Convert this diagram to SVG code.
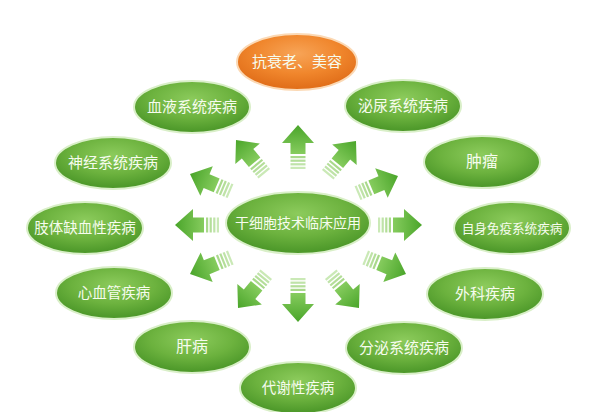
<svg xmlns="http://www.w3.org/2000/svg" xmlns:xlink="http://www.w3.org/1999/xlink" width="600" height="412" viewBox="0 0 600 412">
<style>
.n{stroke:#d9efc8;stroke-width:2;fill:url(#gg)}
.o{stroke:#fbd9b5;stroke-width:2;fill:url(#og)}
.t{font-family:"Noto Sans CJK SC","Noto Sans",sans-serif;font-size:15px;fill:#f6fcee;text-anchor:middle}
</style>
<defs>
<radialGradient id="gg" cx="50%" cy="35%" r="60%">
<stop offset="0" stop-color="#8ccb5c"/>
<stop offset="0.6" stop-color="#6cb23e"/>
<stop offset="1" stop-color="#4f9a2b"/>
</radialGradient>
<radialGradient id="og" cx="50%" cy="35%" r="60%">
<stop offset="0" stop-color="#f7a457"/>
<stop offset="0.6" stop-color="#f0862c"/>
<stop offset="1" stop-color="#e2701b"/>
</radialGradient>
<linearGradient id="ag" x1="0" y1="0" x2="0" y2="1">
<stop offset="0" stop-color="#4aa52a"/>
<stop offset="1" stop-color="#86cc5e"/>
</linearGradient>
<g id="arr">
<polygon points="0,0 16,18 7.5,18 7.5,29 -7.5,29 -7.5,18 -16,18" fill="url(#ag)"/>
<rect x="-7.5" y="31" width="15" height="2.2" fill="#a9d98b"/>
<rect x="-7.5" y="34.6" width="15" height="2.2" fill="#b4de99"/>
<rect x="-7.5" y="38.2" width="15" height="2.2" fill="#bfe3a8"/>
<rect x="-7.5" y="41.8" width="15" height="2.2" fill="#cae9b6"/>
</g>
</defs>
<rect width="600" height="412" fill="#ffffff"/>
<g id="connectors">
<use xlink:href="#arr" transform="translate(298,125)"/>
<use xlink:href="#arr" transform="translate(236,140) rotate(-40)"/>
<use xlink:href="#arr" transform="translate(190,174) rotate(-67)"/>
<use xlink:href="#arr" transform="translate(175,225) rotate(-90)"/>
<use xlink:href="#arr" transform="translate(190,274) rotate(-112)"/>
<use xlink:href="#arr" transform="translate(238,308) rotate(-140)"/>
<use xlink:href="#arr" transform="translate(298,322) rotate(180)"/>
<use xlink:href="#arr" transform="translate(359,308) rotate(140)"/>
<use xlink:href="#arr" transform="translate(406,274) rotate(112)"/>
<use xlink:href="#arr" transform="translate(422,225) rotate(90)"/>
<use xlink:href="#arr" transform="translate(398,176) rotate(67)"/>
<use xlink:href="#arr" transform="translate(356,141) rotate(40)"/>
</g>
<g id="center"><ellipse class="n" cx="298" cy="223" rx="72" ry="31"/><text class="t" x="298" y="228" style="font-size:14px">干细胞技术临床应用</text></g>
<g id="n-anti"><ellipse class="o" cx="297" cy="62" rx="60" ry="28"/><text class="t" x="297" y="67">抗衰老、美容</text></g>
<g id="n-blood"><ellipse class="n" cx="192" cy="107" rx="58" ry="26"/><text class="t" x="192" y="112">血液系统疾病</text></g>
<g id="n-urinary"><ellipse class="n" cx="403" cy="106" rx="58" ry="26"/><text class="t" x="403" y="111">泌尿系统疾病</text></g>
<g id="n-nerve"><ellipse class="n" cx="113" cy="163" rx="58" ry="26"/><text class="t" x="113" y="168">神经系统疾病</text></g>
<g id="n-tumor"><ellipse class="n" cx="482" cy="162" rx="58" ry="26"/><text class="t" x="482" y="167" style="font-size:16px">肿瘤</text></g>
<g id="n-limb"><ellipse class="n" cx="85" cy="228" rx="58" ry="26"/><text class="t" x="85" y="233" style="font-size:14.5px">肢体缺血性疾病</text></g>
<g id="n-immune"><ellipse class="n" cx="512" cy="228" rx="58" ry="26"/><text class="t" x="512" y="233" style="font-size:12.6px">自身免疫系统疾病</text></g>
<g id="n-cardio"><ellipse class="n" cx="114" cy="293" rx="58" ry="26"/><text class="t" x="114" y="298" style="font-size:14.5px">心血管疾病</text></g>
<g id="n-surgery"><ellipse class="n" cx="485" cy="294" rx="58" ry="26"/><text class="t" x="485" y="299">外科疾病</text></g>
<g id="n-liver"><ellipse class="n" cx="192" cy="347" rx="58" ry="26"/><text class="t" x="192" y="352" style="font-size:16px">肝病</text></g>
<g id="n-endocrine"><ellipse class="n" cx="404" cy="348" rx="58" ry="26"/><text class="t" x="404" y="353">分泌系统疾病</text></g>
<g id="n-metabolic"><ellipse class="n" cx="298" cy="388" rx="58" ry="26"/><text class="t" x="298" y="393" style="font-size:14.5px">代谢性疾病</text></g>
</svg>
